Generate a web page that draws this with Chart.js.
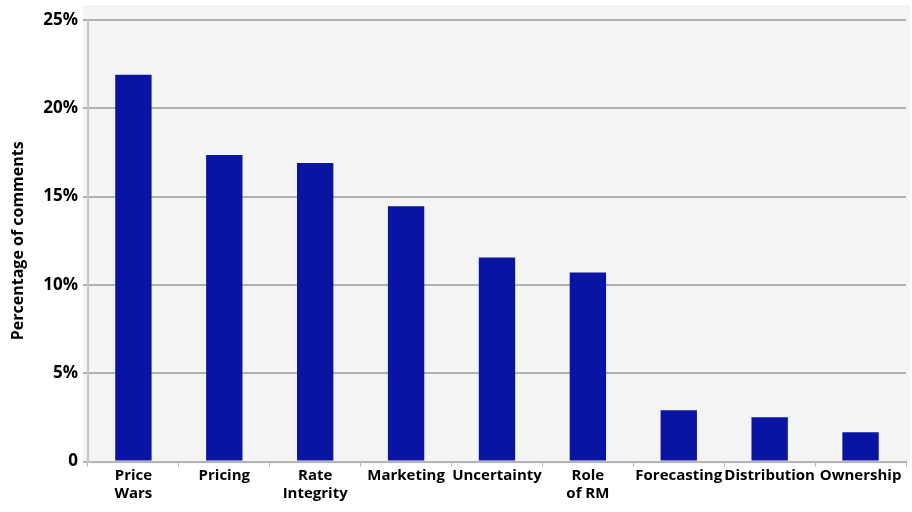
<!DOCTYPE html>
<html>
<head>
<meta charset="utf-8">
<script src="https://cdn.jsdelivr.net/npm/chart.js@4"></script>
<style>
html,body{margin:0;padding:0;background:#fff;}
#wrap{width:912px;height:512px;position:relative;}
</style>
</head>
<body>
<div id="wrap"><canvas id="c" width="912" height="512"></canvas></div>
<script>
const categories = [["Price","Wars"], "Pricing", ["Rate","Integrity"], "Marketing", "Uncertainty", ["Role","of RM"], "Forecasting", "Distribution", "Ownership"];
const percentValues = [21.9, 17.35, 16.9, 14.45, 11.55, 10.7, 2.9, 2.5, 1.65];
const yTicks = [0, 5, 10, 15, 20, 25];
const yTitle = "Percentage of comments";

const bgPlugin = {
  id: 'plotBg',
  beforeDraw(chart) {
    const {ctx, chartArea: a} = chart;
    ctx.save();
    ctx.fillStyle = '#f4f4f4';
    ctx.fillRect(a.left - 5, 5, a.right - a.left + 9, a.bottom - 5 + 2);
    ctx.restore();
  }
};

new Chart(document.getElementById('c'), {
  type: 'bar',
  data: {
    labels: categories,
    datasets: [{
      data: percentValues,
      backgroundColor: '#0a14a2',
      borderWidth: 0,
      categoryPercentage: 0.8,
      barPercentage: 0.5
    }]
  },
  options: {
    responsive: false,
    animation: false,
    devicePixelRatio: 1,
    layout: { padding: { top: 20, right: 6, left: 9, bottom: 9 } },
    plugins: { legend: { display: false }, tooltip: { enabled: false } },
    scales: {
      x: {
        offset: true,
        grid: { display: true, drawOnChartArea: false, drawTicks: true, tickLength: 5, color: '#b4b4b4', lineWidth: 1 },
        border: { display: true, color: '#b4b4b4', width: 2 },
        ticks: {
          color: '#000',
          font: { family: 'Open Sans', weight: 'bold', size: 15, lineHeight: 1.15 },
          maxRotation: 0, autoSkip: false, padding: 1
        }
      },
      y: {
        min: 0, max: 25,
        afterBuildTicks(axis) { axis.ticks = yTicks.map(v => ({ value: v })); },
        grid: { color: '#b0b0b0', lineWidth: 2, drawTicks: true, tickLength: 5 },
        border: { display: true, color: '#c4c4c4', width: 2 },
        ticks: {
          color: '#000',
          font: { family: 'Open Sans', weight: 'bold', size: 17 },
          padding: 5,
          callback: v => v === 0 ? '0' : v + '%'
        },
        title: {
          display: true, text: yTitle, color: '#000',
          font: { family: 'Open Sans', weight: 'bold', size: 16 },
          padding: { top: 0, bottom: 10 }
        }
      }
    }
  },
  plugins: [bgPlugin]
});
</script>
</body>
</html>
